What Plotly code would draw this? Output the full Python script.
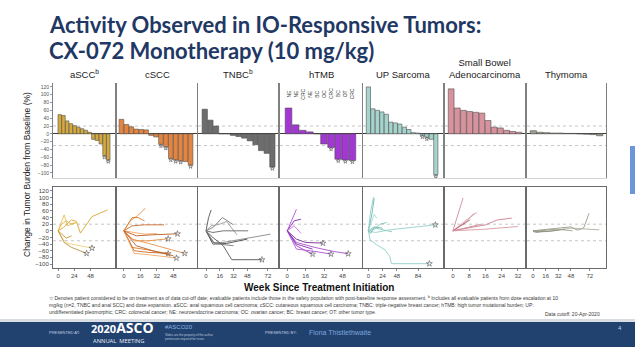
import plotly.graph_objects as go

W, H = 635, 347

# ---------------- data ----------------
panel_titles = ["aSCC<sup>b</sup>", "cSCC", "TNBC<sup>b</sup>", "hTMB", "UP Sarcoma",
                "Small Bowel<br>Adenocarcinoma", "Thymoma"]

# best % change from baseline (waterfall)
aSCC_best = [49, 47, 33, 26, 21, 17, 13, 9, 4, -14, -17, -26, -56, -67]
cSCC_best = [37, 24, 18, 12, 11, 10, -4, -8, -27, -33, -63, -67, -69, -71, -80]
TNBC_best = [63, 35, 20, 0, 0, -4, -7, -11, -18, -28, -43, -50, -85]
hTMB_best = [66, 23, 9, 5, 0, -26, -35, -65, -67, -68]
UPS_best = [120, 64, 60, 56, 50, 30, 28, 25, 17, 11, 3, 2, -4, -9, -14, -105]
SBA_best = [115, 66, 60, 57, 55, 53, 34, 17, 15, 9, 6, 4]
Thym_best = [8, 4, 3, 2, 2, 1, 1, 0, -1, -2, -5]

aSCC_best_on = [0, 0, 0, 0, 0, 0, 0, 0, 0, 0, 0, 0, 1, 1]
cSCC_best_on = [0, 0, 0, 0, 0, 0, 0, 0, 1, 1, 1, 1, 1, 0, 1]
TNBC_best_on = [0, 0, 0, 0, 0, 0, 0, 0, 0, 0, 0, 0, 1]
hTMB_best_on = [0, 0, 0, 0, 0, 0, 1, 1, 1, 1]
UPS_best_on = [0, 0, 0, 0, 0, 0, 0, 0, 0, 0, 0, 0, 1, 1, 0, 1]
SBA_best_on = [0] * 12
Thym_best_on = [0] * 11

hTMB_types = ["NE", "NE", "CRC", "NE", "BC", "OC", "CRC", "BC", "OT", "CRC"]

# spider plots: weeks and % change per patient
aSCC_weeks = [[0, 9, 14, 24], [0, 8, 20, 27, 33, 42, 50, 73], [0, 6, 12, 20],
              [0, 7, 13, 50], [0, 9, 20, 42], [0, 5, 12, 20, 28]]
aSCC_pct = [[0, 48, 15, 25], [0, 10, 33, 28, -7, 18, 43, 63], [0, -10, -22, -15],
            [0, -25, -37, -52], [0, -35, -50, -68], [0, 20, 30, 20, 25]]
aSCC_on = [0, 0, 0, 1, 1, 0]

cSCC_weeks = [[0, 6, 13, 21], [0, 8, 14, 20], [0, 8, 20, 39], [0, 10, 20, 32],
              [0, 12, 28, 52], [0, 10, 24, 43], [0, 8, 24, 59], [0, 8, 24, 43],
              [0, 10, 24, 44], [0, 10, 24, 51], [0, 12, 30, 48]]
cSCC_pct = [[0, 30, 45, 68], [0, 40, 40, 30], [0, 15, 18, 18], [0, -5, -10, -8],
            [0, -15, -12, -9], [0, -30, -30, -24], [0, -25, -38, -68], [0, -50, -58, -69],
            [0, -60, -65, -68], [0, -68, -72, -82], [0, -45, -62, -75]]
cSCC_on = [0, 0, 0, 0, 1, 1, 1, 1, 0, 1, 0]

TNBC_weeks = [[0, 3, 6], [0, 8, 12, 19, 32], [0, 6, 16, 24, 36], [0, 8, 20, 49],
              [0, 8, 20, 75], [0, 8, 24, 48], [0, 8, 20, 30, 65], [0, 10, 32]]
TNBC_pct = [[0, 40, 63], [0, 10, 20, 40, 18], [0, 15, 20, 28, -12], [0, -5, 0, 0],
            [0, -35, -35, -10], [0, -40, -38, -25], [0, -20, -45, -87, -87], [0, -38, -45]]
TNBC_on = [0, 0, 0, 0, 0, 0, 1, 0]

hTMB_weeks = [[0, 8], [0, 6, 12], [0, 6, 12], [0, 8, 16, 31], [0, 8, 16, 22],
              [0, 8, 24, 40, 53], [0, 8, 24, 38], [0, 8, 22]]
hTMB_pct = [[0, 65], [0, 30, 35], [0, 15, -8], [0, -25, -35, -37], [0, -45, -60, -70],
            [0, -35, -50, -62, -69], [0, -55, -62, -70], [0, -40, -55]]
hTMB_on = [0, 0, 0, 1, 1, 1, 1, 0]

UPS_weeks = [[0, 4, 9], [0, 5, 10], [0, 6, 10, 14], [0, 10, 20, 31], [0, 12, 36, 113],
             [0, 8, 20, 40], [0, 3, 14, 28, 36, 39, 103], [0, 4, 10, 24]]
UPS_pct = [[0, 60, 102], [0, 40, 98], [0, 30, 50, 38], [0, 5, 20, 25], [0, -5, 3, 18],
           [0, 10, 5, -3], [0, -27, -42, -57, -77, -99, -99], [0, -8, 12, 8]]
UPS_on = [0, 0, 0, 0, 1, 0, 1, 0]

SBA_weeks = [[0, 5], [0, 6, 10.5], [0, 6, 12], [0, 8.5], [0, 10, 16, 22, 29],
             [0, 16, 32], [0, 8, 14]]
SBA_pct = [[0, 99], [0, 25, 53], [0, 30, 56], [0, 33], [0, 10, 18, 33, 38],
           [0, 5, 13], [0, 12, 20]]
SBA_on = [0] * 7

Thym_weeks = [[0, 16, 32, 48, 56, 64, 71], [0, 24, 48, 64, 84], [0, 8, 20, 40],
              [0, 10, 30, 50], [0, 5, 15]]
Thym_pct = [[0, 3, 8, 12, 2, 8, 53], [0, 0, 8, 5, 3], [0, -3, -2, 5],
            [0, 2, 5, 0], [-2, -5, 0]]
Thym_on = [0] * 5

week_ticks = [[0, 24, 48], [0, 16, 32, 48], [0, 16, 32, 48, 72], [0, 16, 32, 48],
              [0, 24, 48, 84], [0, 8, 16, 24, 32], [0, 16, 32, 48, 72]]
y_ticks = [120, 100, 80, 60, 40, 20, 0, -20, -40, -60, -80, -100]
ref_lines = [20, -30]

best_all = [aSCC_best, cSCC_best, TNBC_best, hTMB_best, UPS_best, SBA_best, Thym_best]
best_on_all = [aSCC_best_on, cSCC_best_on, TNBC_best_on, hTMB_best_on, UPS_best_on,
               SBA_best_on, Thym_best_on]
weeks_all = [aSCC_weeks, cSCC_weeks, TNBC_weeks, hTMB_weeks, UPS_weeks, SBA_weeks, Thym_weeks]
pct_all = [aSCC_pct, cSCC_pct, TNBC_pct, hTMB_pct, UPS_pct, SBA_pct, Thym_pct]
on_all = [aSCC_on, cSCC_on, TNBC_on, hTMB_on, UPS_on, SBA_on, Thym_on]

# ---------------- styles / layout ----------------
bar_colors = ["#d6a93c", "#e4843f", "#6d6d6d", "#a336d4", "#a5d4cd", "#d8929d", "#a3a290"]
line_palettes = [
    ["#e6c256", "#d9a52f", "#c99a3a", "#efd27a", "#b8903a", "#e3b448"],
    ["#e8914a", "#d97a2b", "#c86a28", "#f0a868", "#b85d25", "#e58c3c"],
    ["#555555", "#777777", "#999999", "#666666", "#888888", "#4a4a4a"],
    ["#b050d8", "#8a2bb5", "#c878e6", "#7a2a9a", "#9b3fcc", "#a94fd0"],
    ["#8fd0c8", "#6fb8b0", "#a8ddd6", "#7cc4bc", "#96cfc7", "#85c9c0"],
    ["#d08a98", "#c07080", "#e0a8b2", "#b86878", "#cc8090", "#d898a4"],
    ["#9a9a88", "#b0b0a0", "#888878", "#a0a090", "#909080", "#a8a898"],
]
col_px = [(53, 115), (117, 197), (198, 278), (280, 362), (363, 443), (445, 525), (527, 606)]
top_px = (83, 178)
bot_px = (187, 268)
bar_pad = [(1.3, 1.3), (0.4, 0.8), (0.7, 0.5), (0.7, 0.85), (0.7, 1.1), (0.5, 0.5), (0.45, 0.45)]
week_range = [[-7.5, 84], [-6.7, 71], [-9.3, 83.7], [-6.3, 65], [-9, 126], [-3.9, 35.5], [-7.6, 92.4]]
TOP_RANGE = [-113, 130]
BOT_RANGE = [-112, 132]
AX_FONT = "Liberation Sans"


def fx(x):
    return x / W


def fy(y):
    return 1 - y / H


fig = go.Figure()
layout = {}
shapes = []
annotations = []

for k in range(7):
    ti = k + 1
    bi = k + 8
    xt = "x" if ti == 1 else f"x{ti}"
    yt = "y" if ti == 1 else f"y{ti}"
    xb, yb = f"x{bi}", f"y{bi}"
    vals = best_all[k]
    n = len(vals)
    idx = list(range(n))
    # waterfall bars
    fig.add_trace(go.Bar(x=idx, y=vals, xaxis=xt, yaxis=yt, marker=dict(
        color=bar_colors[k], line=dict(color="#505050", width=0.6)), showlegend=False,
        hoverinfo="y"))
    oi = [i for i in idx if best_on_all[k][i]]
    if oi:
        fig.add_trace(go.Scatter(x=oi, y=[vals[i] - 4 for i in oi], xaxis=xt, yaxis=yt,
                                 mode="markers", marker=dict(symbol="star-open", size=3,
                                 color="#505050", line=dict(width=0.6)), showlegend=False))
    # spider lines
    pal = line_palettes[k]
    for j, (wk, pc) in enumerate(zip(weeks_all[k], pct_all[k])):
        c = pal[j % len(pal)]
        fig.add_trace(go.Scatter(x=wk, y=pc, xaxis=xb, yaxis=yb, mode="lines",
                                 line=dict(color=c, width=0.9), showlegend=False))
        if on_all[k][j]:
            fig.add_trace(go.Scatter(x=[wk[-1]], y=[pc[-1]], xaxis=xb, yaxis=yb,
                                     mode="markers", marker=dict(symbol="star-open", size=4.5,
                                     color="#555555", line=dict(width=0.6)), showlegend=False))

    x0, x1 = col_px[k]
    pl, pr = bar_pad[k]
    # top row axes
    layout["xaxis" if ti == 1 else f"xaxis{ti}"] = dict(
        domain=[fx(x0), fx(x1)], anchor=yt, range=[-0.5 - pl, n - 0.5 + pr],
        showticklabels=False, showgrid=False, zeroline=False, ticks="",
        showline=True, linecolor="#d4d4d4", linewidth=1, fixedrange=True)
    layout["yaxis" if ti == 1 else f"yaxis{ti}"] = dict(
        domain=[fy(top_px[1]), fy(top_px[0])], anchor=xt, range=TOP_RANGE,
        showgrid=False, zeroline=True, zerolinecolor="#3a3a3a", zerolinewidth=1,
        showline=True, mirror=True, linecolor="#808080", linewidth=1,
        tickvals=y_ticks, showticklabels=(k == 0), ticks="outside" if k == 0 else "",
        ticklen=2, tickcolor="#999999",
        tickfont=dict(family=AX_FONT, size=5, color="#555555"))
    # bottom row axes
    layout[f"xaxis{bi}"] = dict(
        domain=[fx(x0), fx(x1)], anchor=yb, range=week_range[k],
        tickvals=week_ticks[k], ticks="outside", ticklen=2, tickcolor="#888888",
        tickfont=dict(family=AX_FONT, size=6, color="#444444"),
        showgrid=False, zeroline=False, showline=True, mirror=True,
        linecolor="#6a6a6a", linewidth=1)
    layout[f"yaxis{bi}"] = dict(
        domain=[fy(bot_px[1]), fy(bot_px[0])], anchor=xb, range=BOT_RANGE,
        showgrid=False, zeroline=False, showline=True, mirror=True,
        linecolor="#6a6a6a", linewidth=1, tickvals=y_ticks,
        showticklabels=(k == 0), ticks="outside" if k == 0 else "", ticklen=2,
        tickcolor="#888888", tickfont=dict(family=AX_FONT, size=6, color="#444444"))

    for xa, ya in ((xt, yt), (xb, yb)):
        for rv in ref_lines:
            shapes.append(dict(type="line", xref=f"{xa} domain", yref=ya, x0=0, x1=1,
                               y0=rv, y1=rv, line=dict(color="#b8b8b8", width=0.8,
                                                       dash="dot"), layer="below"))

    # panel title
    annotations.append(dict(text=panel_titles[k], x=fx((x0 + x1) / 2), xref="paper",
                            y=fy(82), yref="paper", yanchor="bottom", xanchor="center",
                            showarrow=False, align="center",
                            font=dict(family=AX_FONT, size=9.5, color="#222222")))

# hTMB tumor-type labels (rotated)
for i, t in enumerate(hTMB_types):
    annotations.append(dict(text=t, x=i, y=102, xref="x4", yref="y4", textangle=-90,
                            showarrow=False, font=dict(family=AX_FONT, size=5,
                                                        color="#333333")))

# titles and texts
TITLE_C = "#1f3864"
annotations += [
    dict(text="<b>Activity Observed in IO-Responsive Tumors:</b>", x=fx(47), y=fy(24.5),
         xanchor="left", yanchor="middle", font=dict(family="Lato", size=22, color=TITLE_C)),
    dict(text="<b>CX-072 Monotherapy (10 mg/kg)</b>", x=fx(47), y=fy(50.5),
         xanchor="left", yanchor="middle", font=dict(family="Lato", size=22, color=TITLE_C)),
    dict(text="Change in Tumor Burden from Baseline (%)", x=fx(27), y=fy(175),
         textangle=-90, xanchor="center", yanchor="middle",
         font=dict(family=AX_FONT, size=8.5, color="#222222")),
    dict(text="<b>Week Since Treatment Initiation</b>", x=fx(319), y=fy(287),
         xanchor="center", yanchor="middle", font=dict(family=AX_FONT, size=10, color="#111111")),
]
foot = [
    "☆ Denotes patient considered to be on treatment as of data cut-off date; evaluable patients include those in the safety population with post-baseline response assessment. <sup>b</sup> Includes all evaluable patients from dose escalation at 10",
    "mg/kg (n=2, TNBC and anal SCC) and dose expansion. aSCC: anal squamous cell carcinoma; cSCC: cutaneous squamous cell carcinoma; TNBC: triple-negative breast cancer; hTMB: high tumor mutational burden; UP:",
    "undifferentiated pleomorphic; CRC: colorectal cancer; NE: neuroendocrine carcinoma; OC: ovarian cancer; BC: breast cancer; OT: other tumor type.",
]
for i, t in enumerate(foot):
    annotations.append(dict(text=t, x=fx(47), y=fy(297.5 + 7 * i), xanchor="left",
                            yanchor="middle", font=dict(family=AX_FONT, size=5,
                                                        color="#3a3a3a")))
annotations.append(dict(text="Data cutoff: 20-Apr-2020", x=fx(602), y=fy(314),
                        xanchor="right", yanchor="middle",
                        font=dict(family=AX_FONT, size=5, color="#3a3a3a")))

# footer band
shapes.append(dict(type="rect", xref="paper", yref="paper", x0=0, x1=1, y0=fy(323),
                   y1=fy(319), fillcolor="#d8dce3", line=dict(width=0), layer="below"))
shapes.append(dict(type="rect", xref="paper", yref="paper", x0=0, x1=1, y0=0,
                   y1=fy(322), fillcolor="#21416f", line=dict(width=0), layer="below"))
shapes.append(dict(type="rect", xref="paper", yref="paper", x0=fx(630), x1=1.01,
                   y0=fy(194), y1=fy(146), fillcolor="#6b95dd", line=dict(width=0)))
annotations += [
    dict(text="PRESENTED AT:", x=fx(47), y=fy(332), xanchor="left", yanchor="middle",
         font=dict(family=AX_FONT, size=4, color="#c4cde0")),
    dict(text="<b>2020<span style='font-size:14px'>ASCO</span></b>", x=fx(89), y=fy(327.5),
         xanchor="left", yanchor="middle", font=dict(family="Open Sans", size=11, color="#ffffff")),
    dict(text="ANNUAL  MEETING", x=fx(91), y=fy(340.8), xanchor="left", yanchor="middle",
         font=dict(family="Open Sans", size=5.8, color="#e8ecf4")),
    dict(text="#ASCO20", x=fx(163), y=fy(327), xanchor="left", yanchor="middle",
         font=dict(family=AX_FONT, size=6, color="#8fb4e3")),
    dict(text="Slides are the property of the author,<br>permission required for reuse.",
         x=fx(163), y=fy(336.5), xanchor="left", yanchor="middle", align="left",
         font=dict(family=AX_FONT, size=3, color="#b8c3d8")),
    dict(text="PRESENTED BY:", x=fx(263), y=fy(332), xanchor="left", yanchor="middle",
         font=dict(family=AX_FONT, size=4, color="#c4cde0")),
    dict(text="Fiona Thistlethwaite", x=fx(307), y=fy(332), xanchor="left", yanchor="middle",
         font=dict(family=AX_FONT, size=7, color="#7fa7dc")),
    dict(text="4", x=fx(620), y=fy(328), xanchor="center", yanchor="middle",
         font=dict(family=AX_FONT, size=6, color="#c4cde0")),
]
for a in annotations:
    a.setdefault("xref", "paper")
    a.setdefault("yref", "paper")
    a.setdefault("showarrow", False)

fig.update_layout(**layout)
fig.update_layout(width=W, height=H, margin=dict(l=0, r=0, t=0, b=0),
                  paper_bgcolor="white", plot_bgcolor="white", bargap=0.06,
                  shapes=shapes, annotations=annotations, showlegend=False)
fig.write_html("out.html", config={"displayModeBar": False})
